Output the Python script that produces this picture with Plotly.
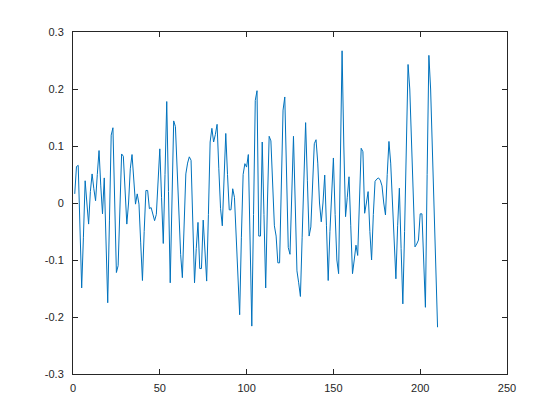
import plotly.graph_objects as go

y_values = [
    0.016, 0.064, 0.066, -0.04, -0.149, -0.06, 0.039, 0.0, -0.037, 0.02,
    0.051, 0.025, 0.004, 0.05, 0.092, 0.03, -0.019, 0.044, -0.06, -0.175,
    -0.03, 0.119, 0.132, 0.0, -0.122, -0.11, -0.01, 0.086, 0.082, 0.02,
    -0.037, 0.0, 0.06, 0.085, 0.04, -0.002, 0.016, -0.002, -0.07, -0.136,
    -0.05, 0.022, 0.022, -0.01, -0.008, -0.018, -0.031, -0.02, 0.04, 0.095,
    0.01, -0.071, 0.05, 0.178, 0.02, -0.14, 0.0, 0.144, 0.134, 0.06,
    -0.02, -0.09, -0.131, -0.04, 0.051, 0.07, 0.081, 0.075, -0.03, -0.14,
    -0.08, -0.034, -0.115, -0.115, -0.03, -0.08, -0.137, -0.02, 0.107, 0.131,
    0.107, 0.12, 0.138, 0.06, -0.01, -0.04, 0.04, 0.122, 0.05, -0.012,
    -0.012, 0.025, 0.01, -0.06, -0.14, -0.196, -0.06, 0.05, 0.069, 0.063,
    0.085, -0.07, -0.216, -0.02, 0.18, 0.197, -0.058, -0.058, 0.107, -0.02,
    -0.149, 0.0, 0.117, 0.109, 0.03, -0.04, -0.058, -0.105, -0.105, 0.03,
    0.163, 0.186, 0.05, -0.078, -0.09, 0.02, 0.117, 0.0, -0.119, -0.14,
    -0.164, -0.06, 0.05, 0.141, 0.04, -0.058, -0.042, 0.04, 0.104, 0.111,
    0.07, 0.0, -0.033, 0.0, 0.049, -0.04, -0.136, -0.05, 0.03, 0.079,
    -0.02, -0.1, -0.124, 0.07, 0.267, 0.1, -0.024, 0.01, 0.046, -0.04,
    -0.124, -0.1, -0.074, -0.092, 0.0, 0.096, 0.09, -0.018, 0.0, 0.02,
    -0.05, -0.1, -0.02, 0.038, 0.042, 0.044, 0.04, 0.03, 0.0, -0.021,
    0.05, 0.108, 0.07, 0.0, -0.08, -0.133, -0.04, 0.026, -0.08, -0.177,
    -0.05, 0.12, 0.243, 0.2, 0.1, 0.0, -0.077, -0.072, -0.065, -0.019,
    -0.019, -0.1, -0.183, 0.05, 0.259, 0.2, 0.1, 0.0, -0.11, -0.218,
]
x_values = list(range(1, len(y_values) + 1))

x_tickvals = [0, 50, 100, 150, 200, 250]
x_ticktext = ["0", "50", "100", "150", "200", "250"]
y_tickvals = [-0.3, -0.2, -0.1, 0, 0.1, 0.2, 0.3]
y_ticktext = ["-0.3", "-0.2", "-0.1", "0", "0.1", "0.2", "0.3"]

fig = go.Figure()
fig.add_trace(go.Scatter(
    x=x_values, y=y_values, mode="lines",
    line=dict(color="#0072BD", width=1),
    showlegend=False,
))

axis_common = dict(
    showline=True, linecolor="#262626", linewidth=1, mirror="ticks",
    ticks="inside", ticklen=5, tickcolor="#262626", tickwidth=1,
    showgrid=False, zeroline=False, automargin=False,
    tickfont=dict(family="Liberation Sans, Arial, sans-serif", size=11, color="#262626"),
)

fig.update_layout(
    width=560, height=420,
    margin=dict(l=65, r=61, t=24, b=54),
    paper_bgcolor="white", plot_bgcolor="white",
    xaxis=dict(range=[0, 250], tickvals=x_tickvals, ticktext=x_ticktext,
               ticklabelstandoff=4, **axis_common),
    yaxis=dict(range=[-0.3, 0.3], tickvals=y_tickvals, ticktext=y_ticktext,
               ticklabelstandoff=6, **axis_common),
)

fig.write_html("out.html")
